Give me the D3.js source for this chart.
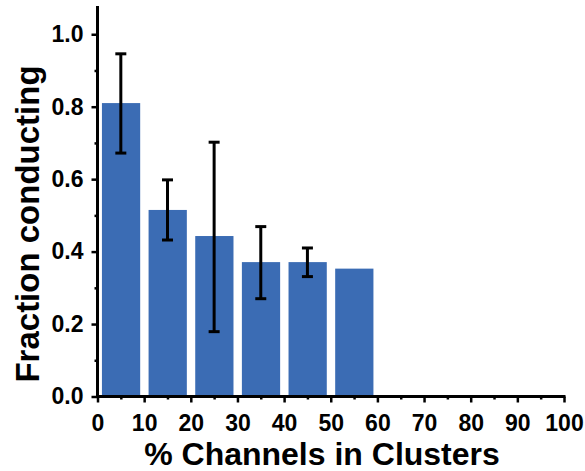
<html>
<head>
<style>
  body { margin: 0; background: #fff; }
  svg { font-family: "Liberation Sans", Arial, sans-serif; font-weight: bold; }
</style>
</head>
<body>
<svg id="chart" width="585" height="471"></svg>
<script src="https://d3js.org/d3.v7.min.js"></script>
<script>
var binStarts = [0, 10, 20, 30, 40, 50];
var fraction = [0.81, 0.515, 0.443, 0.371, 0.371, 0.353];
var errLow = [0.672, 0.432, 0.179, 0.270, 0.331, null];
var errHigh = [0.946, 0.598, 0.702, 0.469, 0.410, null];
var xTicks = [0, 10, 20, 30, 40, 50, 60, 70, 80, 90, 100];
var yTicks = [0.0, 0.2, 0.4, 0.6, 0.8, 1.0];

var svg = d3.select('#chart');
var x = d3.scaleLinear().domain([0, 100]).range([97.5, 564]);
var y = d3.scaleLinear().domain([0, 1.078]).range([396.5, 6]);

// bars
svg.selectAll('rect.bar')
  .data(fraction)
  .enter().append('rect')
  .attr('class', 'bar')
  .attr('x', function(d, i) { return x(binStarts[i] + 0.95); })
  .attr('width', function(d, i) { return x(binStarts[i] + 9.15) - x(binStarts[i] + 0.95); })
  .attr('y', function(d) { return y(d); })
  .attr('height', function(d) { return y(0) - y(d); })
  .attr('fill', '#3b6cb4');

// error bars
var errIdx = d3.range(fraction.length).filter(function(i) { return errLow[i] != null; });
var eb = svg.selectAll('g.err').data(errIdx).enter().append('g')
  .attr('stroke', '#000').attr('stroke-width', 3);
eb.append('line')
  .attr('x1', function(i) { return x(binStarts[i] + 5); })
  .attr('x2', function(i) { return x(binStarts[i] + 5); })
  .attr('y1', function(i) { return y(errLow[i]); })
  .attr('y2', function(i) { return y(errHigh[i]); });
[errLow, errHigh].forEach(function(arr) {
  eb.append('line')
    .attr('x1', function(i) { return x(binStarts[i] + 5) - 5.5; })
    .attr('x2', function(i) { return x(binStarts[i] + 5) + 5.5; })
    .attr('y1', function(i) { return y(arr[i]); })
    .attr('y2', function(i) { return y(arr[i]); });
});

// axes
var xAxis = d3.axisBottom(x).tickValues(xTicks).tickSize(6).tickFormat(d3.format('d'));
var xMinor = d3.axisBottom(x).tickValues(d3.range(5, 100, 10)).tickSize(3).tickFormat('');
var yAxis = d3.axisLeft(y).tickValues(yTicks).tickSize(6).tickFormat(d3.format('.1f'));
var yMinor = d3.axisLeft(y).tickValues(d3.range(0.1, 1.05, 0.2)).tickSize(3).tickFormat('');

function style(g) {
  g.select('.domain').remove();
  g.selectAll('.tick line').attr('stroke', '#000').attr('stroke-width', 2.5);
  g.selectAll('.tick text').attr('fill', '#000').style('font-size', '23px').style('font-weight', 'bold')
    .style('font-family', '"Liberation Sans", Arial, sans-serif');
}

svg.append('g').attr('transform', 'translate(0,' + y(0) + ')').call(xMinor).call(style);
svg.append('g').attr('transform', 'translate(0,' + y(0) + ')').call(xAxis).call(style)
  .selectAll('.tick text').attr('dy', '0.71em').attr('y', 18);
svg.append('g').attr('transform', 'translate(' + x(0) + ',0)').call(yMinor).call(style);
svg.append('g').attr('transform', 'translate(' + x(0) + ',0)').call(yAxis).call(style)
  .selectAll('.tick text').attr('x', -14);

// axis lines
svg.append('line').attr('x1', x(0)).attr('x2', x(0)).attr('y1', 6).attr('y2', y(0) + 1.5)
  .attr('stroke', '#000').attr('stroke-width', 3);
svg.append('line').attr('x1', x(0) - 1.5).attr('x2', x(100) + 1.5).attr('y1', y(0)).attr('y2', y(0))
  .attr('stroke', '#000').attr('stroke-width', 3);

// titles
svg.append('text').attr('x', 322).attr('y', 465)
  .attr('text-anchor', 'middle').style('font-size', '32px')
  .text('% Channels in Clusters');
svg.append('text').attr('transform', 'translate(39,224) rotate(-90)')
  .attr('text-anchor', 'middle').style('font-size', '33px')
  .text('Fraction conducting');
</script>
</body>
</html>
